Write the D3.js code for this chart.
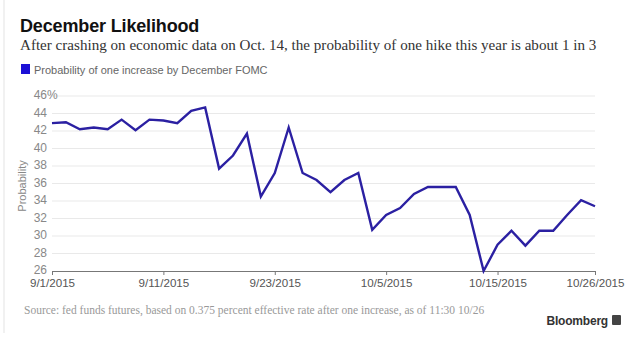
<!DOCTYPE html>
<html>
<head>
<meta charset="utf-8">
<script src="https://cdn.jsdelivr.net/npm/d3@7"></script>
<style>
  body { margin: 0; background: #fff; }
  svg { display: block; }
</style>
</head>
<body>
<div id="chart"></div>
<script>
const width = 630;
const height = 340;

// trading days, 9/1 through 10/26
const dates = [
    "9/1", "9/2", "9/3", "9/4", "9/7", "9/8", "9/9", "9/10", "9/11", "9/14",
    "9/15", "9/16", "9/17", "9/18", "9/21", "9/22", "9/23", "9/24", "9/25", "9/28",
    "9/29", "9/30", "10/1", "10/2", "10/5", "10/6", "10/7", "10/8", "10/9", "10/12",
    "10/13", "10/14", "10/15", "10/16", "10/19", "10/20", "10/21", "10/22", "10/23", "10/26"
];

const probability = [
    42.9, 43.0, 42.2, 42.4, 42.2, 43.3, 42.1, 43.3, 43.2, 42.9,
    44.3, 44.7, 37.7, 39.2, 41.7, 34.5, 37.2, 42.4, 37.2, 36.4,
    35.0, 36.4, 37.2, 30.7, 32.4, 33.2, 34.8, 35.6, 35.6, 35.6,
    32.4, 26.0, 29.0, 30.6, 28.9, 30.6, 30.6, 32.4, 34.1, 33.4
];

const xTicks = ["9/1", "9/11", "9/23", "10/5", "10/15", "10/26"];
const yTicks = [26, 28, 30, 32, 34, 36, 38, 40, 42, 44, 46];

const lineColor = "#2b20a2";
const sans = "Liberation Sans, Arial, sans-serif";
const serif = "Liberation Serif, Georgia, serif";

const svg = d3.select("#chart")
    .append("svg")
    .attr("width", width)
    .attr("height", height);

// faint card edge on the left
svg.append("line")
    .attr("x1", 4).attr("x2", 4)
    .attr("y1", 0).attr("y2", 333)
    .attr("stroke", "#ececec")
    .attr("stroke-width", 1.5);

const x = d3.scalePoint()
    .domain(dates)
    .range([52, 595]);

const y = d3.scaleLinear()
    .domain([26, 46])
    .range([271, 96]);

// title block
svg.append("text")
    .attr("x", 20)
    .attr("y", 32)
    .attr("font-family", sans)
    .attr("font-weight", "bold")
    .attr("font-size", 18)
    .attr("letter-spacing", -0.15)
    .attr("fill", "#111")
    .text("December Likelihood");

svg.append("text")
    .attr("x", 20)
    .attr("y", 50)
    .attr("font-family", serif)
    .attr("font-size", 15.1)
    .attr("fill", "#333")
    .text("After crashing on economic data on Oct. 14, the probability of one hike this year is about 1 in 3");

// legend
svg.append("rect")
    .attr("x", 21)
    .attr("y", 64)
    .attr("width", 9)
    .attr("height", 10)
    .attr("fill", "#1c10d6");

svg.append("text")
    .attr("x", 34)
    .attr("y", 73.5)
    .attr("font-family", sans)
    .attr("font-size", 11)
    .attr("fill", "#666")
    .text("Probability of one increase by December FOMC");

// horizontal gridlines
svg.append("g")
    .selectAll("line")
    .data(yTicks.filter(d => d > 26))
    .enter()
    .append("line")
    .attr("x1", 52)
    .attr("x2", 595)
    .attr("y1", d => y(d))
    .attr("y2", d => y(d))
    .attr("stroke", "#e9e9e9")
    .attr("stroke-width", 1);

// y axis labels
svg.append("g")
    .selectAll("text")
    .data(yTicks)
    .enter()
    .append("text")
    .attr("x", 47)
    .attr("y", d => y(d) - 0.5)
    .attr("dy", "0.32em")
    .attr("text-anchor", "end")
    .attr("font-family", sans)
    .attr("font-size", 12)
    .attr("fill", "#888")
    .text(d => d);

svg.append("text")
    .attr("x", 47)
    .attr("y", y(46) - 0.5)
    .attr("dy", "0.32em")
    .attr("font-family", sans)
    .attr("font-size", 12)
    .attr("fill", "#888")
    .text("%");

svg.append("text")
    .attr("transform", "translate(26," + 186 + ") rotate(-90)")
    .attr("text-anchor", "middle")
    .attr("font-family", sans)
    .attr("font-size", 11)
    .attr("fill", "#888")
    .text("Probability");

// x axis
const xAxis = d3.axisBottom(x)
    .tickValues(xTicks)
    .tickSize(4)
    .tickSizeOuter(0)
    .tickFormat(d => d + "/2015");

const gx = svg.append("g")
    .attr("transform", "translate(0," + y(26) + ")")
    .call(xAxis);

gx.select(".domain")
    .attr("stroke", "#777");

gx.selectAll(".tick line")
    .attr("stroke", "#777");

gx.selectAll(".tick text")
    .attr("y", 8)
    .attr("font-family", sans)
    .attr("font-size", 11.6)
    .attr("fill", "#555");

// probability line
const line = d3.line()
    .x((d, i) => x(dates[i]))
    .y(d => y(d));

svg.append("path")
    .datum(probability)
    .attr("d", line)
    .attr("fill", "none")
    .attr("stroke", lineColor)
    .attr("stroke-width", 2.4)
    .attr("stroke-linejoin", "miter");

// footer
svg.append("text")
    .attr("x", 24)
    .attr("y", 314)
    .attr("font-family", serif)
    .attr("font-size", 11.5)
    .attr("fill", "#999")
    .text("Source: fed funds futures, based on 0.375 percent effective rate after one increase, as of 11:30 10/26");

svg.append("text")
    .attr("x", 608)
    .attr("y", 325)
    .attr("text-anchor", "end")
    .attr("font-family", sans)
    .attr("font-weight", "bold")
    .attr("font-size", 12)
    .attr("letter-spacing", -0.2)
    .attr("fill", "#333")
    .text("Bloomberg");

svg.append("rect")
    .attr("x", 612)
    .attr("y", 315)
    .attr("width", 9)
    .attr("height", 10)
    .attr("rx", 1)
    .attr("fill", "#444");
</script>
</body>
</html>
